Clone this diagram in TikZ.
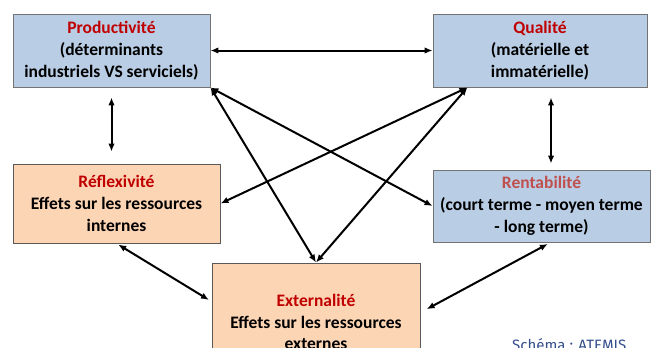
\documentclass[tikz,border=0pt]{standalone}
\usepackage{fontspec}
\setmainfont{Carlito}
\newfontfamily\creditfont{Fira Sans}
\usetikzlibrary{arrows.meta,calc,positioning}
\definecolor{boxblue}{RGB}{185,205,229}
\definecolor{boxorange}{RGB}{252,213,181}
\definecolor{titlered}{RGB}{192,0,0}
\definecolor{titlerose}{RGB}{192,80,77}
\definecolor{creditblue}{RGB}{52,78,140}
\tikzset{
    diag box/.style={
        draw=black!65,
        line width=1pt,
        inner sep=0pt,
        align=center,
        font=\fontsize{17.5}{21.8}\selectfont\bfseries
    },
    diag blue/.style={diag box, fill=boxblue, draw=black!55},
    diag orange/.style={diag box, fill=boxorange},
    diag link/.style={{Latex[length=2.8mm,width=2.3mm]}-{Latex[length=2.8mm,width=2.3mm]}, line width=2pt}
}
\begin{document}
\begin{tikzpicture}[x=1pt,y=-1pt]
    \path[use as bounding box, clip] (0,0) rectangle (651,348);
    \fill[white] (0,0) rectangle (651,348);

    \node[diag blue, minimum width=197pt, minimum height=73pt] (prod) at (111.5,50.5) {\textcolor{titlered}{Productivité}\\(déterminants\\industriels VS serviciels)};
    \node[diag blue, minimum width=214pt, minimum height=73pt] (qual) at (540,50.5) {\textcolor{titlered}{Qualité}\\(matérielle et\\immatérielle)};
    \node[diag orange, minimum width=207pt, minimum height=79pt] (reflex) at (116.5,203.5) {\textcolor{titlered}{Réflexivité}\\Effets sur les ressources\\internes};
    \node[diag blue, minimum width=217pt, minimum height=72pt] (rentab) at (541.5,206) {\textcolor{titlerose}{Rentabilité}\\(court terme - moyen terme\\- long terme)};
    \node[diag orange, minimum width=208pt, minimum height=118pt] (ext) at (316,322) {\textcolor{titlered}{Externalité}\\Effets sur les ressources\\externes};

    \node[font=\creditfont\fontsize{15}{18}\selectfont, text=creditblue, anchor=base west, inner sep=0pt] (credit) at (512,350) {Schéma : ATEMIS};

    \coordinate (qualfoot) at ($(qual.south)+(11,0)$);
    \coordinate (extleft) at ($(ext.north west)+(0,39)$);
    \coordinate (extright) at ($(ext.north east)+(0,50)$);
    \coordinate (rentabfoot) at ($(rentab.south)+(9,0)$);

    \draw[diag link] (prod.east) -- (qual.west);
    \draw[diag link, shorten <=10pt, shorten >=12pt] (prod.south) -- (prod.south |- reflex.north);
    \draw[diag link, shorten <=10pt, shorten >=6pt] (qualfoot) -- (qualfoot |- rentab.north);
    \draw[diag link] (prod.south east) -- (rentab.west);
    \draw[diag link] (prod.south east) -- (ext.north);
    \draw[diag link] (qual.207.5) -- (reflex.east);
    \draw[diag link] (qual.207.5) -- (ext.north);
    \draw[diag link, shorten <=2pt, shorten >=3pt] (reflex.south) -- (extleft);
    \draw[diag link, shorten <=3pt, shorten >=7pt] (rentabfoot) -- (extright);
\end{tikzpicture}
\end{document}
